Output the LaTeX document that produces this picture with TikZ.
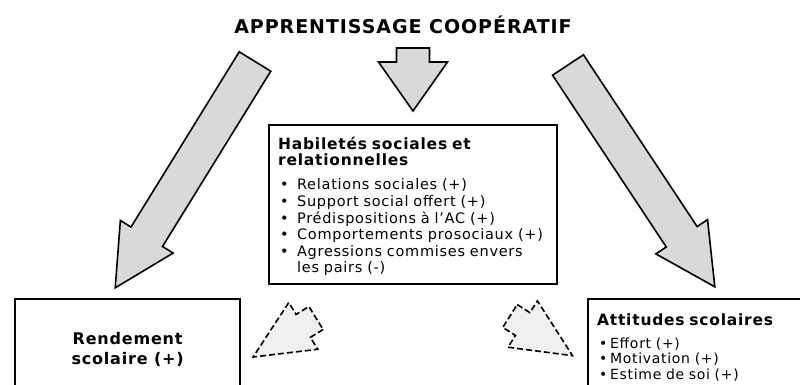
\documentclass[tikz,border=0pt]{standalone}
\usepackage{fontspec}
\setmainfont{DejaVu Sans}[LetterSpace=5]
\usepackage{tikz}
\usetikzlibrary{positioning}
\definecolor{arrowgray}{HTML}{D9D9D9}
\definecolor{dashgray}{HTML}{F0F0F0}
\tikzset{
  pics/blockarrow/.style args={#1/#2/#3/#4}{code={
    \draw[pic actions] (0,-#2/2) -- (#1-#4,-#2/2) -- (#1-#4,-#3/2) -- (#1,0)
      -- (#1-#4,#3/2) -- (#1-#4,#2/2) -- (0,#2/2) -- cycle;
  }},
  bigarrow/.style={draw, fill=arrowgray, line width=1.6pt, line join=miter},
  dasharrow/.style={draw, fill=dashgray, line width=1.6pt, dash pattern=on 6pt off 3pt},
  box/.style={draw, line width=2.2pt, inner sep=0pt},
}
\newcommand{\itm}{\hspace*{2pt}\makebox[17pt][l]{•}}
\newcommand{\sitm}{\hspace*{2pt}\makebox[11pt][l]{•}}
\newcommand{\hdfont}{\fontsize{15.5}{18}\selectfont\bfseries}

\begin{document}
\begin{tikzpicture}[x=1pt,y=-1pt]
    \useasboundingbox (0,0) rectangle (800,385);

    \node[font=\fontsize{19}{22}\selectfont\bfseries] (title) at (403,25) {APPRENTISSAGE COOPÉRATIF};

    \node[box, anchor=north west, minimum width=288pt, minimum height=159pt,
          text width=270pt, align=left, font=\fontsize{14.5}{16.6}\selectfont] (hab) at (268,124)
      {{\hdfont\rule{0pt}{16pt}Habiletés sociales et}\\{\hdfont relationnelles}\\[7.4pt]
       \itm Relations sociales (+)\\
       \itm Support social offert (+)\\
       \itm Prédispositions à l’AC (+)\\
       \itm Comportements prosociaux (+)\\
       \itm Agressions commises envers\\
       \hspace*{19pt}les pairs (-)};

    \node[box, anchor=north west, minimum width=225pt, minimum height=100pt,
          align=center, font=\fontsize{16}{20}\selectfont\bfseries] (rend) at (14,298) {Rendement\\scolaire (+)};

    \node[box, anchor=north west, minimum width=230pt, minimum height=96pt,
          text width=212pt, align=left, inner xsep=8pt, font=\fontsize{14}{15.5}\selectfont] (att) at (587,298)
      {{\hdfont Attitudes scolaires}\\[7.5pt]
       \sitm Effort (+)\\
       \sitm Motivation (+)\\
       \sitm Estime de soi (+)};

    % big arrows
    \coordinate (ltail) at (255,61.5);
    \coordinate (rtail) at (568,65);
    \coordinate (ctail) at (413,48);
    \pic[bigarrow, rotate=-121.7] at (ltail) {blockarrow=266/37/62/60};
    \pic[bigarrow, rotate=-56.5] at (rtail) {blockarrow=266/37/62/60};
    \pic[bigarrow, rotate=-90] at (ctail) {blockarrow=63/33/69/49};

    % dashed arrows
    \coordinate (dltail) at (316,318);
    \coordinate (drtail) at (510,316);
    \pic[dasharrow, rotate=-148.2] at (dltail) {blockarrow=74/27/55/59};
    \pic[dasharrow, rotate=-32.4] at (drtail) {blockarrow=74/27/55/59};
\end{tikzpicture}
\end{document}
